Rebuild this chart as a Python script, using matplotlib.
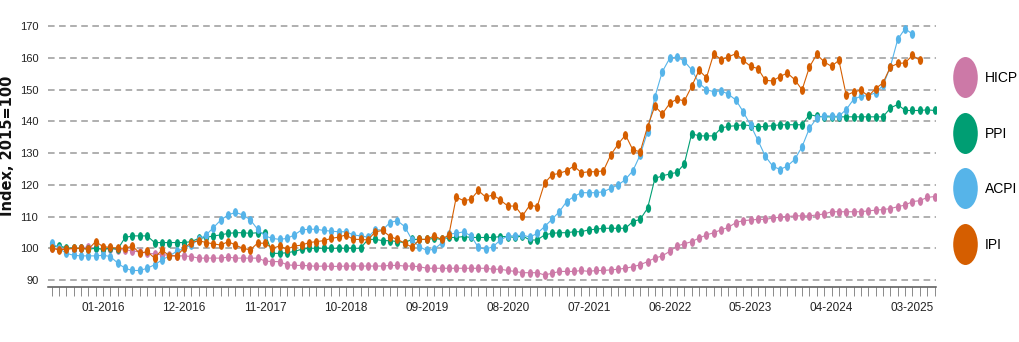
import numpy as np
import pandas as pd
import matplotlib
matplotlib.use("Agg")
import matplotlib.pyplot as plt
from matplotlib.path import Path
from matplotlib.transforms import Affine2D
from matplotlib.lines import Line2D

# monthly index values, 06-2015 .. 06-2025 (2015=100)
start_month = "2015-06"
hicp = [100.0, 99.9, 99.8, 99.9, 100.2, 100.4, 100.0, 99.7, 99.9, 99.6,
        99.5, 99.2, 98.8, 98.5, 98.2, 98.0, 97.8, 97.6, 97.6, 97.4,
        96.9, 96.9, 96.9, 96.9, 97.2, 96.9, 96.9, 96.9, 96.9, 96.0,
        95.8, 95.8, 94.8, 94.6, 94.6, 94.5, 94.3, 94.4, 94.3, 94.3,
        94.4, 94.4, 94.4, 94.4, 94.4, 94.4, 94.6, 94.6, 94.4, 94.4,
        94.2, 93.7, 93.7, 93.7, 93.7, 93.7, 93.7, 93.7, 93.7, 93.7,
        93.4, 93.4, 93.0, 92.7, 92.3, 92.3, 92.3, 91.6, 92.1, 92.7,
        92.7, 92.7, 93.0, 92.7, 93.0, 93.0, 93.2, 93.4, 93.7, 94.2,
        94.8, 95.8, 96.9, 97.6, 99.0, 100.7, 101.4, 102.1, 103.2, 104.2,
        104.9, 105.8, 106.6, 108.1, 108.7, 108.9, 109.1, 109.1, 109.5, 109.8,
        110.0, 110.2, 110.2, 110.2, 110.5, 110.8, 111.5, 111.5, 111.5, 111.5,
        111.5, 111.8, 112.0, 112.2, 112.5, 113.1, 113.6, 114.7, 115.0, 116.0,
        116.3]
ppi = [100.5, 100.7, 100.2, 100.0, 100.0, 99.7, 100.0, 99.7, 100.0, 99.7,
       103.4, 103.9, 103.9, 103.9, 101.8, 101.8, 101.8, 101.8, 101.8, 102.1,
       103.1, 103.4, 103.9, 104.2, 104.7, 104.9, 104.9, 104.7, 104.9, 104.7,
       98.4, 98.4, 98.6, 99.0, 99.7, 100.0, 100.0, 100.0, 100.0, 100.0,
       100.0, 100.0, 100.0, 102.8, 102.8, 102.4, 102.4, 102.1, 101.8, 102.8,
       102.8, 102.8, 103.1, 102.8, 103.4, 103.4, 103.7, 103.4, 103.4, 103.4,
       103.4, 103.7, 103.7, 103.4, 103.9, 102.6, 102.6, 104.2, 104.7, 104.9,
       104.9, 105.2, 105.2, 105.8, 106.0, 106.3, 106.3, 106.3, 106.3, 108.4,
       109.1, 112.6, 122.0, 122.8, 123.4, 123.9, 126.6, 136.1, 135.4, 135.4,
       135.4, 137.9, 138.4, 138.6, 138.9, 138.6, 138.2, 138.4, 138.6, 138.9,
       138.9, 138.9, 138.9, 142.1, 141.6, 141.4, 141.4, 141.4, 141.4, 141.4,
       141.4, 141.4, 141.4, 141.4, 144.2, 145.3, 143.4, 143.4, 143.4, 143.6,
       143.4]
acpi = [101.8, 100.0, 98.4, 97.8, 97.6, 97.6, 97.6, 97.8, 97.4, 95.3,
        93.7, 93.0, 93.0, 93.7, 94.8, 96.3, 97.6, 99.0, 100.0, 101.0,
        102.8, 104.2, 106.5, 108.9, 110.5, 111.3, 110.5, 109.0, 106.0, 103.9,
        103.1, 102.8, 103.1, 104.2, 105.8, 106.0, 106.0, 105.6, 105.4, 105.2,
        105.2, 104.2, 103.9, 103.5, 105.8, 105.8, 108.1, 108.7, 106.8, 102.6,
        100.5, 99.3, 99.7, 101.6, 104.5, 104.7, 105.2, 103.9, 100.3, 99.7,
        100.5, 102.6, 103.9, 103.9, 104.2, 103.5, 104.7, 106.8, 109.1, 111.5,
        114.7, 116.3, 117.5, 117.5, 117.5, 117.8, 118.9, 119.9, 121.7, 124.4,
        129.4, 136.7, 147.7, 155.6, 159.8, 160.3, 158.9, 156.2, 152.0, 150.0,
        149.3, 149.6, 148.5, 146.7, 143.0, 138.8, 134.0, 129.0, 125.9, 124.8,
        125.9, 128.0, 132.0, 137.8, 141.0, 141.8, 141.6, 141.6, 143.7, 146.9,
        147.9, 148.1, 149.0, 151.3, 157.2, 165.8, 169.2, 167.4]
ipi = [100.0, 99.5, 99.7, 100.0, 100.0, 99.7, 102.1, 100.5, 100.3, 100.0,
       100.0, 100.7, 98.4, 99.0, 96.9, 99.5, 97.6, 97.6, 100.0, 101.8,
       102.4, 101.8, 101.4, 101.0, 102.1, 101.0, 100.0, 99.5, 101.6, 101.6,
       100.0, 100.7, 99.7, 100.7, 101.0, 101.8, 102.1, 102.4, 103.1, 103.5,
       104.2, 102.8, 102.8, 102.6, 105.2, 105.6, 103.7, 102.8, 101.6, 100.3,
       102.8, 102.8, 103.9, 102.8, 104.2, 116.1, 115.0, 115.4, 118.2, 116.1,
       116.8, 115.2, 113.3, 113.3, 110.2, 113.6, 113.1, 120.5, 123.1, 123.6,
       124.4, 125.9, 123.8, 124.1, 124.1, 124.4, 129.4, 132.8, 135.7, 131.0,
       130.4, 138.3, 144.8, 142.3, 145.6, 147.0, 146.4, 151.0, 156.1, 153.7,
       161.3, 159.4, 160.3, 161.3, 159.2, 157.3, 156.6, 152.9, 152.7, 154.1,
       155.2, 153.1, 149.9, 157.1, 161.1, 158.7, 157.3, 159.2, 148.2, 149.2,
       149.8, 147.9, 150.3, 152.1, 157.1, 158.2, 158.4, 160.8, 159.2]

series_names = ["HICP", "PPI", "ACPI", "IPI"]
series_colors = ["#CC79A7", "#009E73", "#56B4E9", "#D55E00"]
yticks = [90, 100, 110, 120, 130, 140, 150, 160, 170]

months = pd.period_range(start_month, periods=len(hicp), freq="M")
month_labels = [m.strftime("%m-%Y") for m in months]

# narrow oval marker
circle = Path.unit_circle()
oval = Path(Affine2D().scale(0.6, 1.0).transform(circle.vertices), circle.codes)

plt.rcParams["font.family"] = ["Liberation Sans", "DejaVu Sans"]

fig = plt.figure(figsize=(10.19, 3.42), dpi=100)
ax = fig.add_axes([48 / 1019, 55 / 342, 888 / 1019, 267 / 342])

for name, vals, col in zip(series_names, [hicp, ppi, acpi, ipi], series_colors):
    x = np.arange(len(vals))
    ax.plot(x, vals, color=col, lw=0.8, marker=oval, markersize=6.3,
            markeredgewidth=0, label=name)

ax.set_xlim(-0.48, 120.2)
ax.set_ylim(87.8, 171.9)
ax.set_yticks(yticks)
ax.set_yticklabels([str(v) for v in yticks])
for v in yticks:
    ax.axhline(v, color="#AFAFAF", lw=1.4, ls=(0, (3.4, 2.3)), zorder=0)

# a tick every month, a label every 11 months from 01-2016
xt = np.arange(len(hicp))
ax.set_xticks(xt)
ax.set_xticklabels([month_labels[i] if i >= 7 and (i - 7) % 11 == 0 else "" for i in xt])
ax.tick_params(axis="x", length=6.5, width=0.7, color="#8A8A8A", pad=4,
               labelsize=8.5, labelcolor="#222222")
ax.tick_params(axis="y", length=0, pad=7, labelsize=8, labelcolor="#222222")

for s in ["top", "right", "left"]:
    ax.spines[s].set_visible(False)
ax.spines["bottom"].set_color("#555555")
ax.spines["bottom"].set_linewidth(1.1)

ax.set_ylabel("Index, 2015=100", family="DejaVu Sans", fontsize=10.5,
              fontweight="bold", color="#111111")
ax.yaxis.set_label_coords(-0.037, 0.53)

handles = [Line2D([], [], ls="none", marker=oval, markersize=29.5,
                  markeredgewidth=0, color=c) for c in series_colors]
fig.legend(handles, series_names, loc="upper left",
           bbox_to_anchor=(957 / 1019, 1 - 71 / 342), frameon=False,
           fontsize=10, borderpad=0, borderaxespad=0, handlelength=1.2,
           handletextpad=0.8, labelspacing=3.0)

fig.savefig("out.png", dpi=100)
